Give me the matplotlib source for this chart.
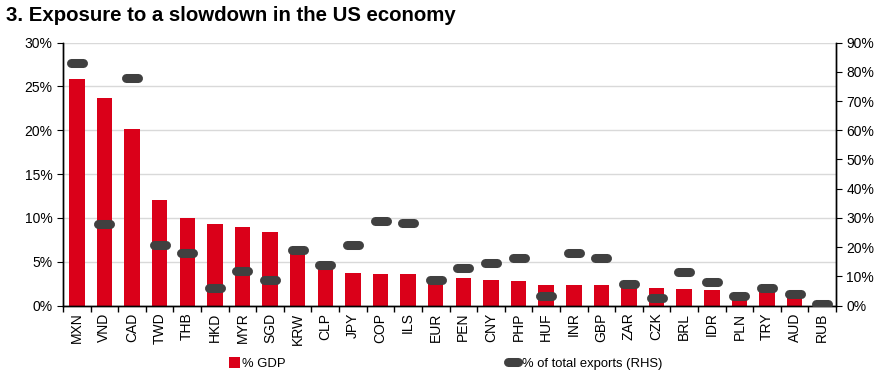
import matplotlib.pyplot as plt
from matplotlib.markers import MarkerStyle
from matplotlib.ticker import FuncFormatter, MultipleLocator
import numpy as np

plt.rcParams['font.family'] = ['Liberation Sans', 'DejaVu Sans']

currencies = ['MXN', 'VND', 'CAD', 'TWD', 'THB', 'HKD', 'MYR', 'SGD', 'KRW', 'CLP',
              'JPY', 'COP', 'ILS', 'EUR', 'PEN', 'CNY', 'PHP', 'HUF', 'INR', 'GBP',
              'ZAR', 'CZK', 'BRL', 'IDR', 'PLN', 'TRY', 'AUD', 'RUB']
pct_gdp = [25.9, 23.7, 20.1, 12.0, 10.0, 9.3, 8.95, 8.4, 6.3, 4.5,
           3.7, 3.6, 3.6, 2.8, 3.2, 2.95, 2.8, 2.35, 2.3, 2.3,
           2.1, 2.0, 1.9, 1.8, 1.0, 1.5, 1.0, 0.1]
pct_exports = [83.1, 28.0, 78.0, 20.6, 18.0, 6.1, 11.7, 8.7, 19.0, 14.0,
               20.6, 29.0, 28.3, 8.7, 12.9, 14.6, 16.3, 3.25, 18.1, 16.3,
               7.5, 2.5, 11.5, 8.2, 3.4, 6.1, 4.0, 0.6]

RED = '#DA0019'
DARK = '#404040'
FS = 10
LEG_FS = 9.4

fig = plt.figure(figsize=(8.81, 3.74), dpi=100)
ax = fig.add_axes([0.0715, 0.183, 0.8775, 0.703])
ax2 = ax.twinx()

x = np.arange(len(currencies))
bars = ax.bar(x, pct_gdp, width=0.56, color=RED, zorder=2, label='% GDP')

dash = MarkerStyle('_', capstyle='round')
line, = ax2.plot(x, pct_exports, linestyle='none', marker=dash, markersize=9,
                 markeredgewidth=6.5, color=DARK, zorder=3,
                 label='% of total exports (RHS)')

ax.set_xlim(-0.5, len(currencies) - 0.5)
ax.set_ylim(0, 30)
ax2.set_ylim(0, 90)
ax.yaxis.set_major_locator(MultipleLocator(5))
ax2.yaxis.set_major_locator(MultipleLocator(10))
pct = FuncFormatter(lambda v, p: f'{v:.0f}%')
ax.yaxis.set_major_formatter(pct)
ax2.yaxis.set_major_formatter(pct)

ax.grid(axis='y', color='#d9d9d9', linewidth=1, zorder=0)
ax.set_axisbelow(True)

ax.set_xticks(x)
ax.set_xticklabels(currencies, rotation=90, fontsize=FS)
ax.tick_params(axis='x', length=0, pad=5)
ax.set_xticks(np.arange(-0.5, len(currencies), 1), minor=True)
ax.tick_params(axis='x', which='minor', length=4, width=1, direction='out')
ax.tick_params(axis='y', labelsize=FS, length=4, direction='out')
ax2.tick_params(axis='y', labelsize=FS, length=4, direction='out')

for a in (ax, ax2):
    a.spines['top'].set_visible(False)
    for s in ('left', 'right', 'bottom'):
        a.spines[s].set_linewidth(1)
        a.spines[s].set_color('black')

ax2.set_zorder(ax.get_zorder() + 1)
ax2.patch.set_visible(False)

fig.text(0.007, 0.958, '3. Exposure to a slowdown in the US economy',
         fontsize=14.7, fontweight='bold', va='center', ha='left')

fig.legend(handles=[bars], loc='center left', bbox_to_anchor=(0.2535, 0.028),
           frameon=False, fontsize=LEG_FS, handlelength=0.85, handleheight=0.85,
           handletextpad=0.2, borderaxespad=0)
fig.legend(handles=[line], loc='center left', bbox_to_anchor=(0.568, 0.028),
           frameon=False, fontsize=LEG_FS, handlelength=1.2, handletextpad=0.05,
           markerscale=0.8, borderaxespad=0)

fig.savefig('out.png', dpi=100)
